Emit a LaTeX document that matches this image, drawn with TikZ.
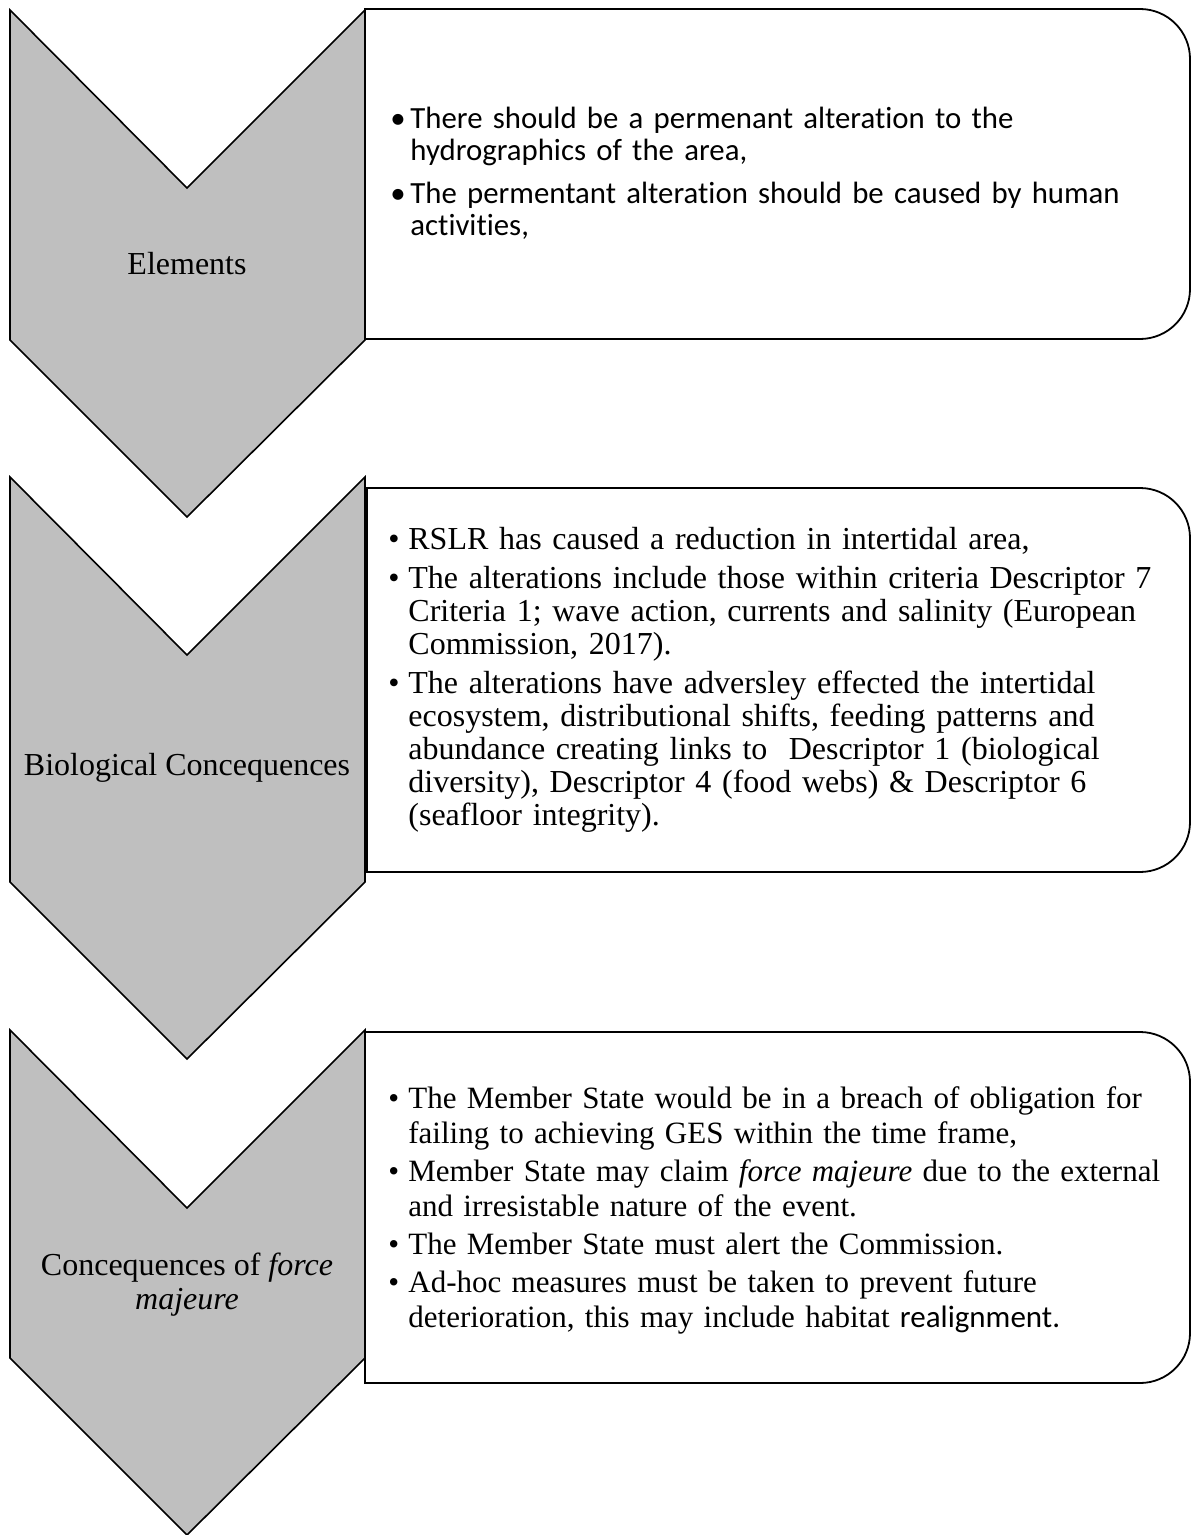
\documentclass[tikz,border=0pt]{standalone}
\usepackage{fontspec}
\setmainfont{Liberation Serif}
\newfontfamily\calibri[Ligatures=NoCommon]{Carlito}
\usetikzlibrary{positioning}

\definecolor{chevgray}{HTML}{BFBFBF}
\newcommand{\bitem}[1]{\par\noindent\hangindent=10pt\hangafter=1\makebox[10pt][l]{\textbullet}#1\par}

\tikzset{
  chev/.style={draw=black,line width=0.8pt,fill=chevgray,line join=miter},
  infobox/.style={draw=black,line width=0.9pt,fill=white},
  chevtext/.style={inner sep=0pt,font=\fontsize{16}{17}\selectfont},
  boxtext/.style={anchor=west,inner sep=0pt,text width=400pt}
}

\begin{document}
\begin{tikzpicture}[x=0.5pt,y=-0.5pt]
  \useasboundingbox (0,0) rectangle (1192,1535);
  % chevrons down the left side
  \foreach \t/\s in {10/340,477/882,1030/1358}
    \draw[chev] (10,\t) -- (187,\t+178) -- (365,\t) -- (365,\s) -- (187,\s+177) -- (10,\s) -- cycle;
  % boxes on the right, rounded on the right only
  \draw[infobox] (365,339) -- (365,9) [rounded corners=25pt] -- (1190,9) -- (1190,339) [sharp corners] -- cycle;
  \draw[infobox] (367,872) -- (367,488) [rounded corners=25pt] -- (1190,488) -- (1190,872) [sharp corners] -- cycle;
  \draw[infobox] (365,1383) -- (365,1032) [rounded corners=25pt] -- (1190,1032) -- (1190,1383) [sharp corners] -- cycle;

  \node[chevtext] (elements) at (187,264) {Elements};
  \node[chevtext] (biocons) at (187,768) {Biological Concequences};
  \node[chevtext,align=center] (forcecons) at (187,1285) {Concequences of \textit{force}\\\textit{majeure}};

  \node[boxtext,font=\calibri\fontsize{15.4}{16}\selectfont] (elemtext) at (390,162) {\setlength\parskip{5.5pt}%
    \bitem{There should be a permenant alteration to the\newline hydrographics of the area,}
    \bitem{The permentant alteration should be caused by human\newline activities,}};
  \node[boxtext,font=\fontsize{16}{16.5}\selectfont] (biotext) at (388,671) {\setlength\parskip{3pt}%
    \bitem{RSLR has caused a reduction in intertidal area,}
    \bitem{The alterations include those within criteria Descriptor 7\newline Criteria 1; wave action, currents and salinity (European\newline Commission, 2017).}
    \bitem{The alterations have adversley effected the intertidal\newline ecosystem, distributional shifts, feeding patterns and\newline abundance creating links to\ \ Descriptor 1 (biological\newline diversity), Descriptor 4 (food webs) \& Descriptor 6\newline (seafloor integrity).}};
  \node[boxtext,font=\fontsize{15.5}{17.5}\selectfont] (forcetext) at (388,1202) {\setlength\parskip{1.5pt}%
    \bitem{The Member State would be in a breach of obligation for\newline failing to achieving GES within the time frame,}
    \bitem{Member State may claim \textit{force majeure} due to the external\newline and irresistable nature of the event.}
    \bitem{The Member State must alert the Commission.}
    \bitem{Ad-hoc measures must be taken to prevent future\newline deterioration, this may include habitat {\calibri realignment.}}};
\end{tikzpicture}
\end{document}
